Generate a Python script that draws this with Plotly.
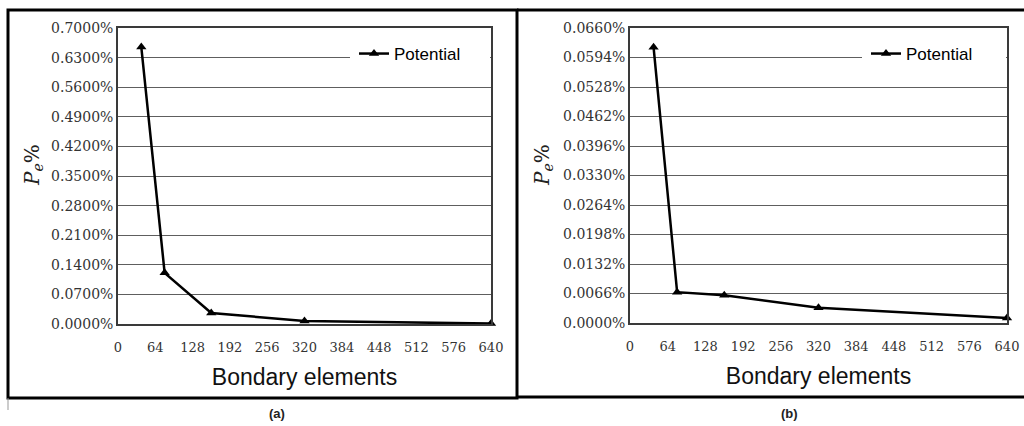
import plotly.graph_objects as go

# Data
elements = [40, 80, 160, 320, 640]
potential_a = [0.655, 0.121, 0.026, 0.007, 0.001]          # percent
potential_b = [0.0617, 0.0069, 0.0062, 0.0034, 0.0011]     # percent
x_ticks = [0, 64, 128, 192, 256, 320, 384, 448, 512, 576, 640]
y_ticks_a = [0.0, 0.07, 0.14, 0.21, 0.28, 0.35, 0.42, 0.49, 0.56, 0.63, 0.70]
y_ticks_b = [0.0, 0.0066, 0.0132, 0.0198, 0.0264, 0.0330, 0.0396, 0.0462, 0.0528, 0.0594, 0.0660]
series_name = "Potential"
x_title = "Bondary elements"
y_title = "<i>P</i><sub><i>e</i></sub>%"
captions = ["(a)", "(b)"]

W, H = 1024, 426
def px(x):
    return x / W
def py(y):
    return 1 - y / H

fig = go.Figure()
fig.add_trace(go.Scatter(x=elements, y=potential_a, mode="lines+markers", name=series_name,
                         line=dict(color="black", width=2.5),
                         marker=dict(symbol="triangle-up", size=9, color="black"),
                         cliponaxis=False, xaxis="x", yaxis="y", legend="legend"))
fig.add_trace(go.Scatter(x=elements, y=potential_b, mode="lines+markers", name=series_name,
                         line=dict(color="black", width=2.5),
                         marker=dict(symbol="triangle-up", size=9, color="black"),
                         cliponaxis=False, xaxis="x2", yaxis="y2", legend="legend2"))

ytickfont = dict(family="DejaVu Serif", size=14, color="#333333")
xtickfont = dict(family="DejaVu Serif", size=13, color="#333333")
line_common = dict(showline=True, linecolor="#3a3a3a", linewidth=1.6, mirror=True,
                   zeroline=False, automargin=False)
title_font = dict(family="Liberation Sans", size=23, color="#111111")

xaxis_common = dict(range=[0, 640], tickvals=x_ticks, ticktext=[str(v) for v in x_ticks],
                    showgrid=False, ticks="outside", ticklen=11, tickcolor="rgba(0,0,0,0)",
                    tickfont=xtickfont, title=dict(text=x_title, font=title_font, standoff=14),
                    **line_common)
yaxis_common = dict(showgrid=True, gridcolor="#5e5e5e", gridwidth=1.3, ticks="",
                    tickfont=ytickfont, **line_common)

fig.update_layout(
    width=W, height=H, margin=dict(l=0, r=0, t=0, b=0, pad=0, autoexpand=False), autosize=False,
    paper_bgcolor="white", plot_bgcolor="white",
    xaxis=dict(domain=[px(118), px(491)], **xaxis_common),
    yaxis=dict(domain=[py(324), py(28)], range=[0, 0.70], tickvals=y_ticks_a,
               ticktext=[f"{v:.4f}%" for v in y_ticks_a], **yaxis_common),
    xaxis2=dict(domain=[px(630), px(1007)], anchor="y2", **xaxis_common),
    yaxis2=dict(domain=[py(323), py(28)], range=[0, 0.066], tickvals=y_ticks_b, anchor="x2",
                ticktext=[f"{v:.4f}%" for v in y_ticks_b], **yaxis_common),
    legend=dict(x=px(354), y=py(54), xanchor="left", yanchor="middle", bgcolor="white",
                font=dict(family="Liberation Sans", size=17, color="black"),
                itemwidth=30, tracegroupgap=0, borderwidth=0),
    legend2=dict(x=px(866), y=py(54), xanchor="left", yanchor="middle", bgcolor="white",
                 font=dict(family="Liberation Sans", size=17, color="black"),
                 itemwidth=30, tracegroupgap=0, borderwidth=0),
    showlegend=True,
)

shapes = [
    # white patches behind the legends, hiding the gridline as in the reference
    dict(type="rect", xref="paper", yref="paper", x0=px(350), x1=px(490), y0=py(66), y1=py(42),
         fillcolor="white", line=dict(width=0), layer="above"),
    dict(type="rect", xref="paper", yref="paper", x0=px(862), x1=px(1006), y0=py(66), y1=py(42),
         fillcolor="white", line=dict(width=0), layer="above"),
    # outer panel frames
    dict(type="rect", xref="paper", yref="paper", x0=px(8), x1=px(517), y0=py(398), y1=py(10),
         line=dict(color="black", width=3)),
    dict(type="line", xref="paper", yref="paper", x0=px(517), x1=1, y0=py(10), y1=py(10),
         line=dict(color="black", width=3)),
    dict(type="line", xref="paper", yref="paper", x0=px(517), x1=1, y0=py(397), y1=py(397),
         line=dict(color="black", width=3)),
    dict(type="line", xref="paper", yref="paper", x0=px(8), x1=px(8), y0=py(410), y1=py(398),
         line=dict(color="#999999", width=1)),
]
fig.update_layout(shapes=shapes)

annotations = []
for xc, cap in zip([277, 789], captions):
    annotations.append(dict(x=px(xc), y=py(413), xref="paper", yref="paper", text=f"<b>{cap}</b>",
                            showarrow=False, font=dict(family="Liberation Sans", size=13, color="#222222"),
                            xanchor="center", yanchor="middle"))
for xc in [33, 543]:
    annotations.append(dict(x=px(xc), y=py(165), xref="paper", yref="paper", text=y_title,
                            showarrow=False, textangle=-90,
                            font=dict(family="DejaVu Serif", size=20, color="#222222"),
                            xanchor="center", yanchor="middle"))
fig.update_layout(annotations=annotations)

fig.write_html("out.html", config={"displayModeBar": False, "responsive": False})

# pin the figure at the window's origin with no page margin
css = ("<style>html,body{margin:0;padding:0;width:1024px;height:426px;overflow:hidden;}"
       ".plotly-graph-div{position:absolute;top:0;left:0;}</style>")
with open("out.html", "r", encoding="utf-8") as f:
    html = f.read()
html = html.replace("<head>", "<head>" + css, 1)
with open("out.html", "w", encoding="utf-8") as f:
    f.write(html)
